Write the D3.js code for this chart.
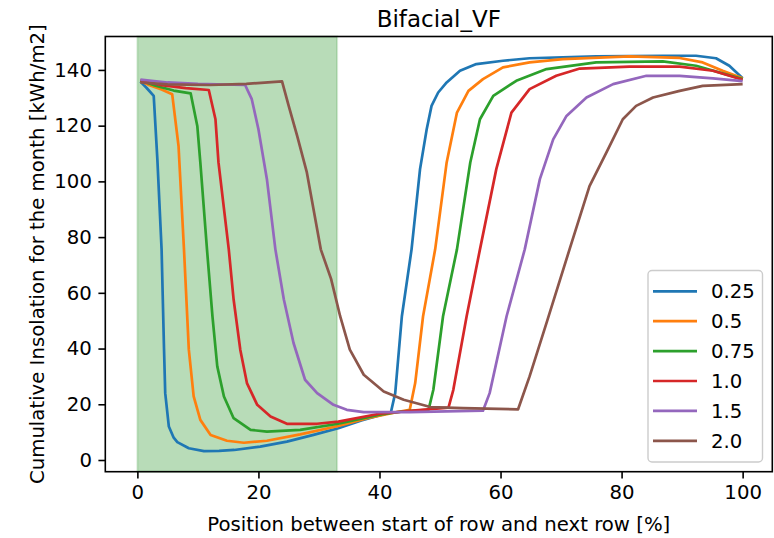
<!DOCTYPE html>
<html>
<head>
<meta charset="utf-8">
<script src="https://cdn.jsdelivr.net/npm/d3@7"></script>
<style>
  body { margin: 0; background: #fff; }
  text { font-family: "DejaVu Sans", sans-serif; fill: #000; }
</style>
</head>
<body>
<svg></svg>
<script>
// series labels (row heights) and colours
var labels = ["0.25", "0.5", "0.75", "1.0", "1.5", "2.0"];
var colors = ["#1f77b4", "#ff7f0e", "#2ca02c", "#d62728", "#9467bd", "#8c564b"];

// [position %, insolation]
var h025 = [[0.5,135.8],[1.5,133.6],[2.7,130.7],[3.3,108],[4.0,75.6],[4.4,40],[4.6,24],[5.2,12],[6.0,8],[6.6,6.4],[8.5,4.2],[11,3.2],[13.5,3.3],[16,3.6],[20.3,4.8],[24.7,6.6],[29.1,9.0],[33.2,11.4],[37,14.2],[41.9,17.2],[42.6,24],[43.7,51.6],[45.3,75.6],[46.7,104.4],[47.8,118.7],[48.6,127.1],[49.7,131.9],[51.1,135.5],[53.3,139.7],[56.0,142.1],[60.4,143.3],[64.8,144.2],[75.8,144.9],[86.8,145.1],[92.3,145.1],[95.6,144.2],[97.8,141.5],[100,137.0]];
var h05 = [[0.5,136.0],[2,134.5],[4,133],[5.75,131.3],[6.8,112.7],[7.7,75.6],[8.5,39.6],[9.3,22.8],[10.4,14.4],[12.1,9.0],[14.8,6.9],[17.6,6.2],[21.4,6.9],[26.9,9.2],[33.2,12.2],[38,15],[42,16.8],[45.0,18.0],[45.9,27.6],[47.2,51.6],[49.2,75.6],[51.1,106.8],[52.8,124.7],[54.7,132.5],[57.1,136.7],[60.4,140.9],[64.8,142.7],[70.3,143.9],[81.3,144.9],[89.6,144.3],[93.4,142.7],[96.7,139.7],[100,137.0]];
var h075 = [[0.5,136.2],[3,134.3],[6,132.6],[8.8,131.6],[9.9,119.9],[10.4,106.8],[11.5,75.6],[12.4,51.6],[13.2,33.6],[14.3,22.8],[15.9,15.0],[18.7,10.8],[21.4,10.2],[26.9,10.8],[33.2,13.0],[40,16.3],[44,17.5],[48.1,18.0],[48.9,25.2],[50.5,51.6],[52.8,75.6],[55.0,106.8],[56.6,122.3],[58.8,130.7],[62.6,136.1],[67.6,140.3],[75.8,142.7],[86.8,143.1],[92.3,141.5],[100,136.7]];
var h10 = [[0.5,136.3],[4,134.5],[8,133.5],[11.8,132.8],[12.9,122.3],[13.4,106.8],[15.1,75.6],[15.9,57.6],[17.0,39.6],[18.1,27.6],[19.8,19.8],[22.0,15.6],[24.7,13.0],[29.7,13.0],[33.2,13.8],[40,16.6],[46,17.8],[51.4,18.8],[52.2,25.2],[54.4,51.6],[56.6,75.6],[59.3,104.4],[61.8,124.7],[64.8,133.1],[69.2,137.9],[73.1,140.5],[81.3,141.2],[89.6,141.2],[95.1,139.7],[100,136.5]];
var h15 = [[0.5,136.5],[5,135.5],[10,135],[17.8,134.6],[18.9,129.5],[20.0,118.7],[21.4,100.8],[22.8,75.6],[24.2,57.6],[25.8,42.0],[27.7,28.8],[29.7,24.0],[32.4,19.8],[34.6,18.0],[37.4,17.2],[45,17.2],[57.1,17.7],[58.2,24.0],[61.0,51.6],[64.0,75.6],[66.5,100.8],[68.7,115.1],[70.9,123.5],[74.2,130.1],[78.6,134.9],[84.1,137.9],[89.6,137.9],[95.1,137.0],[100,136.0]];
var h20 = [[0.5,135.5],[5,134.8],[12,134.6],[18,135],[23.9,135.9],[25.0,127.1],[26.4,116.3],[28.0,103.2],[30.3,75.6],[32.0,65],[33.5,51.6],[35.1,39.6],[37.4,30.6],[40.7,24.6],[44.0,21.6],[48.4,19.0],[53.8,18.6],[62.9,18.2],[64.8,30.0],[67.6,49.2],[71.4,75.6],[74.7,98.3],[77.5,110.4],[80.2,122.3],[82.4,127.1],[85.2,130.1],[89.6,132.5],[93.4,134.3],[100,134.9]];
var series = [h025, h05, h075, h10, h15, h20];

var xTicks = [0, 20, 40, 60, 80, 100];
var yTicks = [0, 20, 40, 60, 80, 100, 120, 140];
var shaded = [0, 33];

var width = 774, height = 538;
var margin = {top: 36.5, right: 1.7, bottom: 66.3, left: 105.3};
var fs = 19.7;

var svg = d3.select("svg")
    .attr("width", width)
    .attr("height", height);

var x = d3.scaleLinear().domain([-5.3, 104.9]).range([margin.left, width - margin.right]);
var y = d3.scaleLinear().domain([-4.2, 152.0]).range([height - margin.bottom, margin.top]);

// shaded region
svg.append("rect")
    .attr("x", x(shaded[0]))
    .attr("y", margin.top)
    .attr("width", x(shaded[1]) - x(shaded[0]))
    .attr("height", y.range()[0] - margin.top)
    .attr("fill", "rgb(0,128,0)")
    .attr("fill-opacity", 0.28)
    .attr("stroke", "rgb(0,128,0)")
    .attr("stroke-opacity", 0.15)
    .attr("stroke-width", 2);

var line = d3.line()
    .x(function(d) { return x(d[0]); })
    .y(function(d) { return y(d[1]); });

svg.append("g").selectAll("path")
    .data(series)
    .enter()
    .append("path")
    .attr("d", line)
    .attr("fill", "none")
    .attr("stroke", function(d, i) { return colors[i]; })
    .attr("stroke-width", 2.7)
    .attr("stroke-linejoin", "round");

// axes
var xAxis = svg.append("g")
    .attr("transform", "translate(0," + y.range()[0] + ")")
    .call(d3.axisBottom(x).tickValues(xTicks).tickSize(6.9).tickPadding(6.5));
var yAxis = svg.append("g")
    .attr("transform", "translate(" + margin.left + ",0)")
    .call(d3.axisLeft(y).tickValues(yTicks).tickSize(6.9).tickPadding(6.5));

[xAxis, yAxis].forEach(function(g) {
  g.select(".domain").remove();
  g.selectAll(".tick line").attr("stroke", "#000").attr("stroke-width", 1.6);
  g.selectAll(".tick text").style("font-size", fs + "px").attr("fill", "#000");
});

// frame
svg.append("rect")
    .attr("x", margin.left)
    .attr("y", margin.top)
    .attr("width", x.range()[1] - margin.left)
    .attr("height", y.range()[0] - margin.top)
    .attr("fill", "none")
    .attr("stroke", "#000")
    .attr("stroke-width", 1.6);

// title and labels
svg.append("text")
    .attr("x", (x.range()[0] + x.range()[1]) / 2)
    .attr("y", 27)
    .attr("text-anchor", "middle")
    .style("font-size", "23px")
    .text("Bifacial_VF");

svg.append("text")
    .attr("x", (x.range()[0] + x.range()[1]) / 2)
    .attr("y", 531)
    .attr("text-anchor", "middle")
    .style("font-size", fs + "px")
    .text("Position between start of row and next row [%]");

svg.append("text")
    .attr("transform", "translate(44," + (y.range()[0] + margin.top) / 2 + ") rotate(-90)")
    .attr("text-anchor", "middle")
    .style("font-size", fs + "px")
    .text("Cumulative Insolation for the month [kWh/m2]");

// legend
var legend = svg.append("g");
legend.append("rect")
    .attr("x", 648)
    .attr("y", 270.5)
    .attr("width", 114.5)
    .attr("height", 191.5)
    .attr("rx", 4)
    .attr("fill", "#fff")
    .attr("fill-opacity", 0.8)
    .attr("stroke", "#ccc")
    .attr("stroke-width", 1.4);

var rows = legend.selectAll("g.row")
    .data(labels)
    .enter()
    .append("g")
    .attr("transform", function(d, i) { return "translate(0," + (291.3 + i * 29.9) + ")"; });
rows.append("line")
    .attr("x1", 653).attr("x2", 697)
    .attr("stroke", function(d, i) { return colors[i]; })
    .attr("stroke-width", 2.7);
rows.append("text")
    .attr("x", 711)
    .attr("dy", "0.35em")
    .style("font-size", fs + "px")
    .text(function(d) { return d; });
</script>
</body>
</html>
